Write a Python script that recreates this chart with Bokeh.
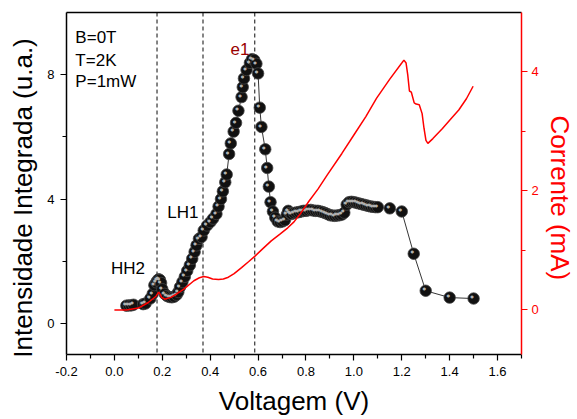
import math
from bokeh.plotting import figure
from bokeh.models import (Range1d, LinearAxis, FixedTicker, NumeralTickFormatter,
                          Span, Label)
from bokeh.embed import file_html
from bokeh.resources import INLINE
from bokeh.core.properties import value

# ---- data ----
volt_pts = [0.05, 0.06, 0.07, 0.08, 0.12, 0.13, 0.15, 0.16, 0.167, 0.175, 0.18, 0.185,
            0.19, 0.195, 0.20, 0.21, 0.22, 0.23, 0.24, 0.25, 0.26, 0.267, 0.274, 0.284,
            0.294, 0.304, 0.315, 0.325, 0.335, 0.343, 0.353, 0.364, 0.373, 0.387, 0.401,
            0.412, 0.426, 0.435, 0.445, 0.453, 0.463, 0.469, 0.479, 0.486, 0.498, 0.508,
            0.518, 0.531, 0.536, 0.541, 0.552, 0.566, 0.575, 0.584, 0.593, 0.600, 0.607,
            0.614, 0.630, 0.638, 0.645, 0.652, 0.662, 0.672, 0.682, 0.692, 0.702, 0.712,
            0.720, 0.726, 0.733, 0.74, 0.75, 0.76, 0.77, 0.78, 0.79, 0.80, 0.81, 0.82,
            0.83, 0.84, 0.85, 0.86, 0.87, 0.88, 0.89, 0.90, 0.91, 0.92, 0.93, 0.94, 0.95,
            0.96, 0.97, 0.98, 0.99, 1.00, 1.01, 1.02, 1.03, 1.04, 1.05, 1.06, 1.07, 1.08,
            1.09, 1.10, 1.15, 1.20, 1.25, 1.30, 1.40, 1.50]
intens_pts = [0.57, 0.58, 0.58, 0.60, 0.62, 0.64, 0.80, 0.95, 1.23, 1.32, 1.38, 1.42,
              1.40, 1.30, 1.10, 0.95, 0.88, 0.85, 0.84, 0.86, 0.92, 1.01, 1.17, 1.33,
              1.50, 1.69, 1.87, 2.08, 2.30, 2.51, 2.72, 2.78, 2.99, 3.15, 3.26,
              3.37, 3.52, 3.76, 4.00, 4.25, 4.54, 4.79, 5.45, 5.79, 6.17, 6.45,
              6.84, 7.28, 7.60, 7.88, 8.15, 8.38, 8.50, 8.47, 8.35, 8.04, 6.94,
              6.32, 5.60, 5.00, 4.40, 3.90, 3.60, 3.40, 3.28, 3.26, 3.28, 3.32,
              3.50, 3.62, 3.55, 3.52, 3.55, 3.57, 3.58, 3.60, 3.62, 3.62, 3.64, 3.65,
              3.63, 3.62, 3.62, 3.60, 3.58, 3.55, 3.52, 3.48, 3.47, 3.46, 3.47, 3.48, 3.50,
              3.56, 3.82, 3.90, 3.91, 3.90, 3.88, 3.86, 3.84, 3.82, 3.80, 3.78, 3.76, 3.75,
              3.74, 3.74, 3.70, 3.60, 2.24, 1.05, 0.83, 0.80]

volt_cur = [0.00, 0.05, 0.10, 0.14, 0.174, 0.185, 0.19, 0.197, 0.21, 0.236, 0.26, 0.29,
            0.332, 0.355, 0.373, 0.39, 0.41, 0.435, 0.455, 0.476, 0.50, 0.531, 0.56,
            0.586, 0.62, 0.655, 0.69, 0.724, 0.75, 0.779, 0.813, 0.85, 0.889, 0.95,
            1.00, 1.05, 1.095, 1.15, 1.20, 1.209, 1.218, 1.225, 1.232, 1.24, 1.252,
            1.26, 1.273, 1.285, 1.293, 1.301, 1.309, 1.33, 1.37, 1.40, 1.438, 1.47, 1.498]
corrente = [0.00, 0.00, 0.03, 0.12, 0.23, 0.30, 0.27, 0.21, 0.18, 0.21, 0.27, 0.35,
            0.49, 0.54, 0.56, 0.55, 0.52, 0.51, 0.52, 0.55, 0.61, 0.71, 0.81,
            0.90, 1.03, 1.16, 1.27, 1.38, 1.48, 1.63, 1.83, 2.03, 2.27, 2.63,
            2.94, 3.25, 3.56, 3.88, 4.15, 4.20, 4.15, 3.95, 3.68, 3.66, 3.48,
            3.46, 3.45, 3.30, 3.05, 2.85, 2.80, 2.88, 3.05, 3.19, 3.36, 3.55, 3.76]

x_major = [-0.2, 0.0, 0.2, 0.4, 0.6, 0.8, 1.0, 1.2, 1.4, 1.6]
x_minor = [-0.1, 0.1, 0.3, 0.5, 0.7, 0.9, 1.1, 1.3, 1.5, 1.7]
yl_major = [0, 4, 8]
yl_minor = [2, 6]
yr_major = [0, 2, 4]
yr_minor = [1, 3]
marker_volts = [0.178, 0.370, 0.586]
cond_texts = ["B=0T", "T=2K", "P=1mW"]
peak_texts = ["e1", "LH1", "HH2"]
x_title = "Voltagem (V)"
yl_title = "Intensidade Integrada (u.a.)"
yr_title = "Corrente (mA)"

FONT = "Liberation Sans"
PAD = "\u00a0" * 4   # nudges the vertical titles slightly downward (Origin-style centring)

p = figure(width=577, height=419, x_range=Range1d(-0.2, 1.7), y_range=Range1d(-1, 10),
           output_backend="svg", toolbar_location=None,
           min_border_left=66, min_border_right=51, min_border_top=12, min_border_bottom=65)
p.extra_y_ranges = {"cur": Range1d(-0.75, 5.0)}
p.xgrid.visible = False
p.ygrid.visible = False
p.outline_line_color = None
p.background_fill_color = "white"
p.border_fill_color = "white"

def style_axis(ax, color, major, minor, label):
    ax.ticker = FixedTicker(ticks=major, minor_ticks=minor)
    ax.axis_line_color = color
    ax.axis_line_width = 1.5
    ax.major_tick_line_color = color
    ax.minor_tick_line_color = color
    ax.major_tick_line_width = 1.2
    ax.minor_tick_line_width = 1.2
    ax.major_tick_in = 0
    ax.major_tick_out = 6
    ax.minor_tick_in = 0
    ax.minor_tick_out = 4
    ax.major_label_text_font = FONT
    ax.major_label_text_font_size = "13px"
    ax.major_label_text_color = color
    ax.axis_label = label
    ax.axis_label_text_font = FONT
    ax.axis_label_text_font_size = "26px"
    ax.axis_label_text_font_style = "normal"
    ax.axis_label_text_color = color

xa = p.xaxis[0]
style_axis(xa, "black", x_major, x_minor, x_title)
xa.formatter = NumeralTickFormatter(format="0.0")
xa.major_label_standoff = 6
xa.axis_label_standoff = 7

ya = p.yaxis[0]
style_axis(ya, "black", yl_major, yl_minor, yl_title + PAD)
ya.major_label_standoff = 6
ya.axis_label_standoff = 6

ra = LinearAxis(y_range_name="cur")
style_axis(ra, "red", yr_major, yr_minor, PAD + yr_title)
ra.major_label_standoff = 4
ra.axis_label_standoff = 3
p.add_layout(ra, "right")

ta = LinearAxis(ticker=FixedTicker(ticks=[]), major_tick_out=0, minor_tick_out=0,
                major_label_text_font_size="0px", axis_line_color="black", axis_line_width=1.5)
p.add_layout(ta, "above")

for v in marker_volts:
    p.add_layout(Span(location=v, dimension="height", line_color="#333333",
                      line_dash="4 3", line_width=1.2, level="underlay"))

p.line(volt_pts, intens_pts, line_color="black", line_width=0.8)
p.scatter(volt_pts, intens_pts, size=11.5, fill_color="#111111", line_color="#444444",
          line_width=0.8)
p.text(x=volt_pts, y=intens_pts, text=["●"] * len(volt_pts), text_font=value("DejaVu Sans"),
       text_font_size="4px", text_color="#b0b0b0", x_offset=-1.5, y_offset=-1.8,
       text_align="center", text_baseline="middle")

p.line(volt_cur, corrente, y_range_name="cur", line_color="red", line_width=1.5)

cond_y = [9.18, 8.47, 7.77]
for t, yy in zip(cond_texts, cond_y):
    p.add_layout(Label(x=-0.163, y=yy, text=t, text_font=FONT, text_font_size="17px",
                       text_color="black", text_baseline="alphabetic"))

peak_pos = [(0.485, 8.82, "#990000"), (0.221, 3.57, "black"), (-0.014, 1.77, "black")]
for t, (xx, yy, c) in zip(peak_texts, peak_pos):
    p.add_layout(Label(x=xx, y=yy, text=t, text_font=FONT, text_font_size="17px",
                       text_color=c, text_baseline="alphabetic"))

open("out.html", "w").write(file_html(p, INLINE))
